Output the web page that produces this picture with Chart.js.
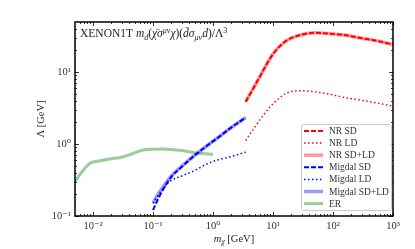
<!DOCTYPE html>
<html>
<head>
<meta charset="utf-8">
<script src="https://cdn.jsdelivr.net/npm/chart.js@4/dist/chart.umd.min.js"></script>
<style>
  html, body { margin: 0; padding: 0; background: #fff; }
  #wrap { width: 415px; height: 249px; }
</style>
</head>
<body>
<div id="wrap"><canvas id="c" width="415" height="249"></canvas></div>
<script>
// ---- data ----
const erMass   = [0.005, 0.0069, 0.0089, 0.0131, 0.02, 0.028, 0.044, 0.069, 0.147, 0.316, 0.57, 1.0];
const erLambda = [0.30, 0.435, 0.54, 0.586, 0.625, 0.645, 0.726, 0.826, 0.853, 0.807, 0.743, 0.72];

const migMass  = [0.1, 0.12, 0.15, 0.2, 0.3, 0.5, 0.8, 1.2, 2.0, 3.5];
const migSD    = [0.121, 0.168, 0.240, 0.345, 0.48, 0.70, 0.95, 1.22, 1.69, 2.32];
const migLD    = [0.15, 0.19, 0.245, 0.31, 0.36, 0.43, 0.53, 0.60, 0.67, 0.77];
const migSDLD  = [0.152, 0.198, 0.258, 0.355, 0.49, 0.70, 0.95, 1.22, 1.69, 2.32];

const nrMass   = [3.5, 5, 7, 10, 15, 20, 30, 50, 90, 150, 300, 600, 1000];
const nrSD     = [3.85, 6.5, 10.8, 17.8, 25.5, 29.5, 33.0, 35.0, 34.0, 32.6, 29.5, 26.6, 24.0];
const nrLD     = [1.12, 1.72, 2.55, 3.62, 4.82, 5.35, 5.5, 5.3, 4.9, 4.45, 4.05, 3.65, 3.37];
const nrSDLD   = [3.85, 6.5, 10.8, 17.8, 25.5, 29.5, 33.0, 35.0, 34.0, 32.6, 29.5, 26.6, 24.0];

const xTickValues = [0.01, 0.1, 1, 10, 100, 1000];
const xTickLabels = ['10\u207B\u00B2', '10\u207B\u00B9', '10\u2070', '10\u00B9', '10\u00B2', '10\u00B3'];
const yTickValues = [0.1, 1, 10];
const yTickLabels = ['10\u207B\u00B9', '10\u2070', '10\u00B9'];

const legendLabels = ['NR SD', 'NR LD', 'NR SD+LD', 'Migdal SD', 'Migdal LD', 'Migdal SD+LD', 'ER'];

const pts = (xs, ys) => xs.map((x, i) => ({x: x, y: ys[i]}));
const SERIF = '"Liberation Serif", "DejaVu Serif", serif';

function ds(label, xs, ys, color, width, dash, order) {
  return {
    label: label, data: pts(xs, ys), showLine: true, borderColor: color,
    backgroundColor: color, borderWidth: width, borderDash: dash,
    pointRadius: 0, pointHoverRadius: 0, cubicInterpolationMode: 'monotone',
    fill: false, order: order, borderCapStyle: 'butt'
  };
}

const datasets = [
  ds(legendLabels[0], nrMass, nrSD, 'rgb(255,0,0)', 2, [5, 2], 1),
  ds(legendLabels[1], nrMass, nrLD, 'rgb(255,0,0)', 1.5, [1.5, 2.5], 1),
  ds(legendLabels[2], nrMass, nrSDLD, 'rgba(255,0,0,0.4)', 3.5, [], 3),
  ds(legendLabels[3], migMass, migSD, 'rgb(0,0,255)', 2, [5, 2], 1),
  ds(legendLabels[4], migMass, migLD, 'rgb(0,0,255)', 1.5, [1.5, 2.5], 1),
  ds(legendLabels[5], migMass, migSDLD, 'rgba(0,0,255,0.4)', 3.5, [], 3),
  ds(legendLabels[6], erMass, erLambda, 'rgba(0,128,0,0.4)', 3, [], 3)
];

function drawRich(ctx, segs, x, y, size) {
  let cx = x;
  for (const s of segs) {
    const [txt, style, shift] = s;
    const fs = shift === 0 ? size : size * 0.7;
    ctx.font = (style === 'i' ? 'italic ' : '') + fs + 'px ' + SERIF;
    const dy = shift > 0 ? -size * 0.38 : (shift < 0 ? size * 0.22 : 0);
    ctx.fillText(txt, cx, y + dy);
    cx += ctx.measureText(txt).width;
  }
  return cx - x;
}
function richWidth(ctx, segs, size) {
  let w = 0;
  for (const s of segs) {
    const [txt, style, shift] = s;
    const fs = shift === 0 ? size : size * 0.7;
    ctx.font = (style === 'i' ? 'italic ' : '') + fs + 'px ' + SERIF;
    w += ctx.measureText(txt).width;
  }
  return w;
}

const decor = {
  id: 'decor',
  afterDatasetsDraw(chart) {
    const ctx = chart.ctx;
    const a = chart.chartArea;
    const xs = chart.scales.x, ys = chart.scales.y;
    ctx.save();
    ctx.strokeStyle = '#000';
    // ticks on all four sides, pointing inward
    ctx.lineWidth = 0.8;
    for (let e = -3; e <= 3; e++) {
      for (let k = 1; k <= 9; k++) {
        const v = k * Math.pow(10, e);
        if (v < xs.min * 0.999 || v > xs.max * 1.001) continue;
        const px = Math.round(xs.getPixelForValue(v)) + 0.5;
        const len = k === 1 ? 4 : 2;
        ctx.beginPath();
        ctx.moveTo(px, a.bottom); ctx.lineTo(px, a.bottom - len);
        ctx.moveTo(px, a.top); ctx.lineTo(px, a.top + len);
        ctx.stroke();
      }
    }
    for (let e = -2; e <= 2; e++) {
      for (let k = 1; k <= 9; k++) {
        const v = k * Math.pow(10, e);
        if (v < ys.min * 0.999 || v > ys.max * 1.001) continue;
        const py = Math.round(ys.getPixelForValue(v)) + 0.5;
        const len = k === 1 ? 4 : 2;
        ctx.beginPath();
        ctx.moveTo(a.left, py); ctx.lineTo(a.left + len, py);
        ctx.moveTo(a.right, py); ctx.lineTo(a.right - len, py);
        ctx.stroke();
      }
    }
    // frame
    ctx.lineWidth = 1.5;
    ctx.strokeRect(a.left, a.top, a.right - a.left, a.bottom - a.top);

    // in-plot title
    ctx.fillStyle = '#222';
    ctx.textBaseline = 'alphabetic';
    ctx.textAlign = 'left';
    const titleSegs = [
      ['XENON1T ', 'n', 0], ['m', 'i', 0], ['d', 'i', -1], ['(', 'n', 0],
      ['\u03C7\u0304', 'i', 0], ['\u03C3', 'i', 0], ['\u03BC\u03BD', 'i', 1], ['\u03C7', 'i', 0],
      [')(', 'n', 0], ['d\u0304', 'i', 0], ['\u03C3', 'i', 0], ['\u03BC\u03BD', 'i', -1],
      ['d', 'i', 0], [')/\u039B', 'n', 0], ['3', 'n', 1]
    ];
    drawRich(ctx, titleSegs, a.left + 5, a.top + 15, 11.5);

    // axis titles
    const xt = [['m', 'i', 0], ['\u03C7', 'i', -1], [' [GeV]', 'n', 0]];
    const xw = richWidth(ctx, xt, 10.5);
    drawRich(ctx, xt, (a.left + a.right) / 2 - xw / 2, 242, 10.5);
    ctx.save();
    ctx.translate(44, (a.top + a.bottom) / 2);
    ctx.rotate(-Math.PI / 2);
    const yt = [['\u039B [GeV]', 'n', 0]];
    const yw = richWidth(ctx, yt, 10.5);
    drawRich(ctx, yt, -yw / 2, 0, 10.5);
    ctx.restore();

    // legend
    const lx = 301, ly = 124, lw = 90, lh = 86;
    ctx.fillStyle = 'rgba(255,255,255,0.85)';
    ctx.strokeStyle = '#cccccc';
    ctx.lineWidth = 1;
    ctx.beginPath();
    ctx.roundRect(lx + 0.5, ly + 0.5, lw, lh, 2);
    ctx.fill(); ctx.stroke();
    ctx.font = '9.5px ' + SERIF;
    ctx.textBaseline = 'middle';
    chart.data.datasets.forEach((d, i) => {
      const y = ly + 7 + i * 12.1;
      ctx.strokeStyle = d.borderColor;
      ctx.lineWidth = d.borderWidth;
      ctx.setLineDash(d.borderDash || []);
      ctx.beginPath();
      ctx.moveTo(lx + 3, y); ctx.lineTo(lx + 22, y);
      ctx.stroke();
      ctx.setLineDash([]);
      ctx.fillStyle = '#333';
      ctx.fillText(d.label, lx + 28, y + 0.5);
    });
    ctx.restore();
  }
};

new Chart(document.getElementById('c'), {
  type: 'scatter',
  data: { datasets: datasets },
  options: {
    responsive: false,
    animation: false,
    devicePixelRatio: 1,
    layout: { padding: { top: 22, right: 22, left: 0, bottom: 0 } },
    plugins: { legend: { display: false }, tooltip: { enabled: false }, title: { display: false } },
    scales: {
      x: {
        type: 'logarithmic', min: 0.005012, max: 1000,
        grid: { display: false, drawTicks: false }, border: { display: false },
        afterFit(s) { s.height = 33; },
        afterBuildTicks(s) { s.ticks = xTickValues.map(v => ({ value: v })); },
        ticks: {
          autoSkip: false, maxRotation: 0, padding: 4, color: '#333',
          font: { family: SERIF, size: 10.5 },
          callback: (v) => { const i = xTickValues.findIndex(t => Math.abs(t - v) / t < 1e-6); return i >= 0 ? xTickLabels[i] : ''; }
        }
      },
      y: {
        type: 'logarithmic', min: 0.1, max: 49.5,
        grid: { display: false, drawTicks: false }, border: { display: false },
        afterFit(s) { s.width = 75; },
        afterBuildTicks(s) { s.ticks = yTickValues.map(v => ({ value: v })); },
        ticks: {
          autoSkip: false, padding: 4, color: '#333',
          font: { family: SERIF, size: 10.5 },
          callback: (v) => { const i = yTickValues.findIndex(t => Math.abs(t - v) / t < 1e-6); return i >= 0 ? yTickLabels[i] : ''; }
        }
      }
    }
  },
  plugins: [decor]
});
</script>
</body>
</html>
